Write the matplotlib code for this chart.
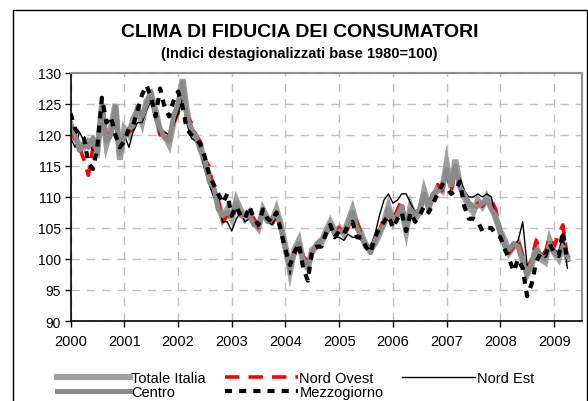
import matplotlib
matplotlib.use("Agg")
import matplotlib.pyplot as plt
import matplotlib.dates as mdates
import matplotlib.patches as mpatches
import pandas as pd

plt.rcParams['font.family'] = ['Liberation Sans', 'DejaVu Sans']

mesi = pd.date_range("2000-01-01", periods=112, freq="MS")

totale_italia = [
    121, 119.5, 118.5, 118, 119, 118.5, 117.5, 124.5, 118.5, 121, 125, 116,
    121, 120, 122.5, 124, 122, 125.5, 126.5, 124, 120.5, 120, 118.5, 122,
    124.5, 129, 124, 120.5, 119.5, 118.5, 115.5, 113.5, 111, 109, 106.5, 108,
    106.5, 109.5, 108, 106.5, 107.5, 106, 105, 108, 106.5, 106, 108, 105.5,
    102, 98, 101.5, 103, 99.5, 98.5, 101.5, 102, 102.5, 104.5, 106, 104.5,
    105, 104, 106, 108, 105.5, 104, 102, 101.5, 102.5, 104, 106, 108.5,
    106, 107.5, 108, 104.5, 108.5, 106.5, 107.5, 111, 108.5, 110, 111.5, 111,
    115.5, 111.5, 116, 112, 110, 108.5, 107.5, 109.5, 108.5, 110, 108.5, 106.5,
    104.5, 103, 101, 102, 102.5, 100, 97.5, 99, 102, 100, 99.5, 103,
    101, 100, 102.5, 100]

nord_ovest = [
    121.5, 119, 118, 116, 113.5, 118, 118, 123.5, 119.5, 120.5, 123.5, 117,
    120, 120.5, 121, 123, 123, 124.5, 125.5, 123.5, 120, 121, 119, 122,
    123.5, 126.5, 123, 122, 120, 119, 116, 115, 110.5, 109.5, 106, 107,
    107, 108.5, 107.5, 106.5, 107, 106.5, 105, 107.5, 106, 105.5, 107, 105,
    101, 99, 100.5, 102.5, 100.5, 99.5, 101, 102, 103.5, 104, 105.5, 103.5,
    105, 103.5, 105, 107, 106, 104, 102, 102, 103, 104.5, 106.5, 108,
    106, 108, 109.5, 105, 108, 107.5, 108, 110, 109, 110.5, 112, 111,
    114, 111, 114.5, 112.5, 110.5, 109, 108, 109, 108.5, 109.5, 109.5, 108,
    104.5, 102.5, 101, 102, 103, 100.5, 98.5, 100, 103, 101.5, 101, 103.5,
    102, 104, 105.5, 100]

nord_est = [
    119.5, 118, 120.5, 119, 118.5, 117.5, 119, 123, 120, 119.5, 122, 119,
    120, 118, 120.5, 122, 122, 124, 125.5, 122.5, 120, 120.5, 120, 121.5,
    123.5, 126, 122, 119.5, 119, 117.5, 114.5, 112, 110, 108.5, 106, 106,
    104.5, 106.5, 107.5, 106, 106.5, 106, 105.5, 107, 106, 105.5, 107, 105,
    101.5, 97.5, 101, 102.5, 100.5, 98.5, 101, 102.5, 103, 104.5, 105, 103.5,
    103.5, 103, 104, 103.5, 103.5, 103, 102.5, 102, 104, 107, 109.5, 110.5,
    109, 109.5, 110.5, 110.5, 109, 107.5, 108, 110, 108.5, 110, 111, 111.5,
    114, 112.5, 114.5, 113, 111, 110, 110, 110.5, 110, 110.5, 110, 106.5,
    104, 102.5, 101, 102, 103, 106, 99, 99.5, 101.5, 101, 100.5, 102.5,
    101.5, 101, 104, 98.5]

centro = [
    122, 120, 117.5, 118.5, 118, 119.5, 117, 125, 119, 120, 124.5, 117,
    120, 121, 121.5, 124.5, 123, 125, 127, 123, 121, 119.5, 119, 123,
    125, 128.5, 123, 121, 120, 117.5, 116, 112.5, 111.5, 108, 107, 107.5,
    107, 109, 107, 107, 107, 105.5, 105.5, 107.5, 106, 106.5, 107.5, 105,
    101.5, 98.5, 101, 102.5, 100, 99, 101, 102.5, 103, 104, 105.5, 104,
    104.5, 104.5, 105.5, 107.5, 105, 103.5, 102.5, 101, 103, 104.5, 105.5, 108,
    106.5, 107, 108.5, 105, 108, 107, 108, 110.5, 108, 110.5, 111, 111.5,
    114.5, 112, 115, 111.5, 110.5, 109, 108.5, 108.5, 109, 109.5, 108, 107,
    104, 102, 101.5, 102.5, 102, 99.5, 97.5, 99.5, 101.5, 100.5, 100, 102.5,
    101, 100.5, 102, 100.5]

mezzogiorno = [
    123.5, 121, 120, 119.5, 115.5, 114.5, 118, 126, 122, 123, 120, 118,
    119, 121, 121.5, 124, 126.5, 128, 126, 123, 127.5, 124.5, 123, 125.5,
    127, 124.5, 121, 120, 119.5, 118.5, 116.5, 113.5, 112, 110.5, 109, 110.5,
    107, 108.5, 107, 106.5, 108.5, 106.5, 105.5, 108, 106.5, 106, 107.5, 104.5,
    101.5, 99, 101, 102.5, 98.5, 96.5, 101.5, 102, 102, 104, 105.5, 103.5,
    104.5, 104, 105.5, 106, 103.5, 103.5, 102, 101, 103.5, 105, 106, 107,
    105, 106.5, 107.5, 104.5, 107.5, 106, 107, 108.5, 107.5, 109, 110.5, 112,
    111.5, 110.5, 111, 112.5, 108.5, 106.5, 106.5, 106, 104.5, 105, 105, 104,
    103.5, 101.5, 100, 98, 100, 98.5, 94, 96, 99.5, 101, 100.5, 102.5,
    101, 100.5, 104.5, 99.5]

fig = plt.figure(figsize=(5.88, 4.02), dpi=100)
ax = fig.add_axes([0.120, 0.199, 0.870, 0.617])

l1, = ax.plot(mesi, totale_italia, color='#a0a0a0', lw=4.4, label='Totale Italia', solid_joinstyle='miter')
l2, = ax.plot(mesi, nord_ovest, color='#ff0000', lw=2.6, ls=(0, (4, 2.5)), label='Nord Ovest')
l3, = ax.plot(mesi, nord_est, color='black', lw=1, label='Nord Est')
l4, = ax.plot(mesi, centro, color='#8a8a8a', lw=3.6, label='Centro')
l5, = ax.plot(mesi, mezzogiorno, color='black', lw=3, ls=(0, (1.7, 1.7)), label='Mezzogiorno')

ax.set_ylim(90, 130)
ax.set_yticks(range(90, 131, 5))
ax.set_xlim(pd.Timestamp("2000-01-01"), pd.Timestamp("2009-07-10"))
ax.xaxis.set_major_locator(mdates.YearLocator())
ax.xaxis.set_major_formatter(mdates.DateFormatter('%Y'))

ax.grid(True, color='#c0c0c0', ls=(0, (6, 5)), lw=1)
ax.set_axisbelow(True)
ax.tick_params(axis='both', direction='out', length=4, width=1, colors='black')
ax.tick_params(axis='y', labelsize=10, pad=3)
ax.tick_params(axis='x', labelsize=10.5, pad=5)

for s in ['left', 'bottom']:
    ax.spines[s].set_color('black')
    ax.spines[s].set_linewidth(1.2)
for s in ['top', 'right']:
    ax.spines[s].set_color('#909090')
    ax.spines[s].set_linewidth(1.5)

fig.text(0.509, 0.918, "CLIMA DI FIDUCIA DEI CONSUMATORI", ha='center', va='center',
         fontsize=14, fontweight='bold')
fig.text(0.509, 0.866, "(Indici destagionalizzati base 1980=100)", ha='center', va='center',
         fontsize=10.5, fontweight='bold')

fig.legend(handles=[l1, l4, l2, l5, l3], ncol=3, loc='upper left',
           bbox_to_anchor=(0.097, 0.074), frameon=False, fontsize=10.5,
           handlelength=5.0, handletextpad=0.1, columnspacing=1.3,
           labelspacing=0.0, borderpad=0, borderaxespad=0)

fig.patches.append(mpatches.Rectangle((12.7 / 588, -0.05), (587 - 12.7) / 588, 0.9726 + 0.05,
                                      transform=fig.transFigure, fill=False,
                                      edgecolor='black', lw=1))

fig.savefig("out.png", dpi=100)
